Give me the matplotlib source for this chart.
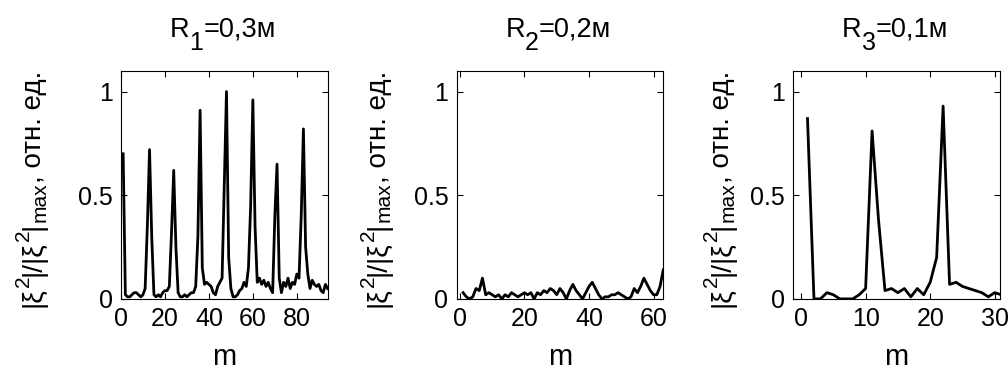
import matplotlib
matplotlib.use("Agg")
import matplotlib.pyplot as plt

# --- données ---
m1 = list(range(1, 95))
amp1 = [0.70, 0.02, 0.01, 0.01, 0.02, 0.03, 0.03, 0.02, 0.01, 0.02,
        0.05, 0.35, 0.72, 0.30, 0.02, 0.01, 0.02, 0.01, 0.03, 0.04,
        0.04, 0.06, 0.32, 0.62, 0.25, 0.03, 0.01, 0.01, 0.02, 0.01,
        0.02, 0.03, 0.03, 0.06, 0.30, 0.91, 0.15, 0.07, 0.08, 0.07,
        0.06, 0.03, 0.02, 0.06, 0.08, 0.10, 0.55, 1.00, 0.20, 0.05,
        0.01, 0.01, 0.02, 0.04, 0.05, 0.08, 0.06, 0.15, 0.45, 0.96,
        0.35, 0.08, 0.10, 0.07, 0.09, 0.06, 0.08, 0.05, 0.03, 0.40,
        0.65, 0.10, 0.03, 0.08, 0.06, 0.10, 0.05, 0.08, 0.07, 0.12,
        0.10, 0.40, 0.82, 0.25, 0.12, 0.05, 0.09, 0.07, 0.06, 0.07,
        0.04, 0.03, 0.07, 0.05]

m2 = list(range(1, 64))
amp2 = [0.03, 0.01, 0.00, 0.01, 0.05, 0.04, 0.10, 0.02, 0.03, 0.02,
        0.01, 0.02, 0.00, 0.02, 0.01, 0.03, 0.02, 0.01, 0.02, 0.03,
        0.02, 0.03, 0.00, 0.03, 0.02, 0.04, 0.03, 0.05, 0.04, 0.02,
        0.05, 0.03, 0.00, 0.04, 0.07, 0.04, 0.02, 0.00, 0.03, 0.06,
        0.08, 0.05, 0.02, 0.00, 0.01, 0.01, 0.02, 0.02, 0.03, 0.02,
        0.01, 0.00, 0.01, 0.05, 0.03, 0.06, 0.10, 0.07, 0.04, 0.02,
        0.02, 0.06, 0.14]

m3 = list(range(1, 32))
amp3 = [0.87, 0.00, 0.00, 0.03, 0.02, 0.00, 0.00, 0.00, 0.02, 0.05,
        0.81, 0.38, 0.04, 0.05, 0.03, 0.05, 0.01, 0.05, 0.02, 0.08,
        0.20, 0.93, 0.07, 0.08, 0.06, 0.05, 0.04, 0.03, 0.01, 0.03,
        0.02]

indices = ["1", "2", "3"]
rayons = ["=0,3м", "=0,2м", "=0,1м"]
xlims = [(0, 94), (-1, 63), (-1.2, 30.8)]
xticks = [[0, 20, 40, 60, 80], [0, 20, 40, 60], [0, 10, 20, 30]]
lefts = [0.120, 0.453, 0.787]
ylabel_dx = [-80, -71, -64]   # position de la ligne de base du label y (px)

plt.rcParams["font.family"] = ["Liberation Sans", "DejaVu Sans"]

W, H = 1008, 369
fig = plt.figure(figsize=(W / 100, H / 100), dpi=100)


def enchainer(ax, morceaux, x0, y0, rotation=0):
    """Écrit une suite de morceaux (texte, taille, décalage en pt) bout à bout,
    pour imiter les indices/exposants de MATLAB (presque pleine taille)."""
    prec = None
    for texte, taille, dec in morceaux:
        if rotation == 0:
            if prec is None:
                xy, coords = (x0, y0), "figure pixels"
            else:
                xy, coords = (1, y0), (prec, "figure pixels")
            decal = (0, dec)
        else:
            if prec is None:
                xy, coords = (x0, y0), "figure pixels"
            else:
                xy, coords = (x0, 1), ("figure pixels", prec)
            decal = (-dec, 0)
        prec = ax.annotate(texte, xy=xy, xycoords=coords, xytext=decal,
                           textcoords="offset points", fontsize=taille,
                           rotation=rotation, rotation_mode="anchor",
                           ha="left", va="baseline", annotation_clip=False)
    return prec


series = [(m1, amp1), (m2, amp2), (m3, amp3)]
for i, (x, y) in enumerate(series):
    ax = fig.add_axes([lefts[i], 0.190, 0.205, 0.618])
    ax.plot(x, y, color="black", lw=2.0)
    ax.set_xlim(*xlims[i])
    ax.set_ylim(0, 1.1)
    ax.set_xticks(xticks[i])
    ax.set_yticks([0, 0.5, 1])
    ax.set_yticklabels(["0", "0.5", "1"])
    ax.tick_params(direction="in", top=True, right=True, length=4,
                   width=0.8, labelsize=18, pad=6)
    for s in ax.spines.values():
        s.set_linewidth(0.8)

    ax.set_xlabel("m", fontsize=21, va="center")
    ax.xaxis.set_label_coords(0.5, -0.255)

    x_ax = lefts[i] * W
    # titre  R_i=0,xм
    enchainer(ax, [("R", 19.5, 0), (indices[i], 18, -9.5), (rayons[i], 19.5, 0)],
              x_ax + 0.236 * 0.205 * W, H - 37)
    # label y  |ξ²|/|ξ²|max, отн. ед.
    enchainer(ax, [("|ξ", 20, 0), ("2", 15, 8.5), ("|/|ξ", 20, 0), ("2", 15, 8.5),
                   ("|", 20, 0), ("max", 15, -3), (", отн. ед.", 20, 0)],
              x_ax + ylabel_dx[i], H - 307, rotation=90)

fig.savefig("out.png", dpi=100, facecolor="white")
